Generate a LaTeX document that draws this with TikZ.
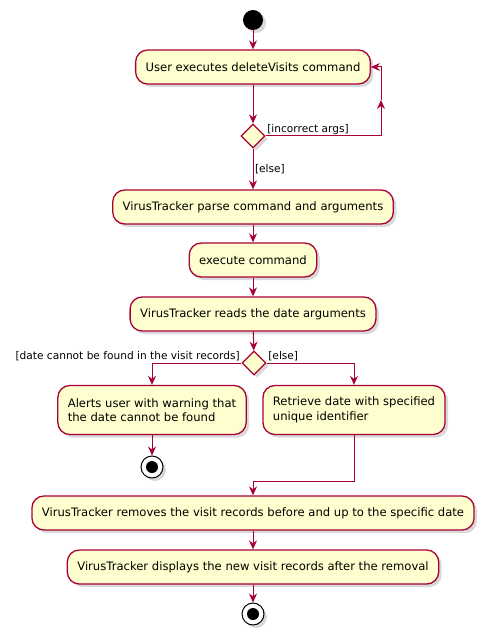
\documentclass[tikz,border=0pt]{standalone}
\usepackage{fontspec}
\setmainfont{DejaVu Sans}
\usetikzlibrary{arrows.meta,shadows,shapes.geometric}
\definecolor{umlborder}{HTML}{A80036}
\definecolor{umlfill}{HTML}{FEFECE}
\begin{document}
\begin{tikzpicture}[x=1pt,y=-1pt,font=\fontsize{11.6}{14.5}\selectfont,
  umlshadow/.style={drop shadow={shadow xshift=3pt,shadow yshift=-3pt,opacity=0.3}},
  action/.style={draw=umlborder,fill=umlfill,line width=1.3pt,rounded corners=12pt,
    minimum height=34pt,inner xsep=10pt,align=left,umlshadow},
  branch/.style={diamond,draw=umlborder,fill=umlfill,line width=1.3pt,
    minimum size=24pt,inner sep=0pt,umlshadow},
  initial/.style={circle,fill=black,minimum size=20pt,inner sep=0pt,umlshadow},
  final/.style={circle,draw=black,fill=white,line width=1pt,minimum size=22pt,inner sep=0pt,umlshadow,
    path picture={\fill[black] (path picture bounding box.center) circle (6pt);}},
  flow/.style={draw=umlborder,line width=1pt,-{Stealth[length=9pt,width=8pt,inset=3pt]}},
  guard/.style={font=\fontsize{10.6}{12.5}\selectfont,inner sep=1.5pt}]
\useasboundingbox (0,0) rectangle (485,636);
% nodes
\node[initial] (begin) at (253,20) {};
\node[action] (usercmd) at (253,67) {User executes deleteVisits command};
\node[branch] (argcheck) at (253,136) {};
\node[action] (parse) at (253,207) {VirusTracker parse command and arguments};
\node[action] (exec) at (253,260) {execute command};
\node[action] (readdate) at (253,314) {VirusTracker reads the date arguments};
\node[branch] (datecheck) at (254,363) {};
\node[action,minimum height=49pt] (alert) at (152,410) {Alerts user with warning that\\the date cannot be found};
\node[action,minimum height=49pt] (fetch) at (354,410) {Retrieve date with specified\\unique identifier};
\node[final] (halt) at (152,467) {};
\node[action] (remove) at (253,513) {VirusTracker removes the visit records before and up to the specific date};
\node[action] (show) at (253,567) {VirusTracker displays the new visit records after the removal};
\node[final] (finish) at (253,614) {};
\coordinate (loopmid) at (381,100);
\coordinate (merge) at (253,481);
% connectors
\draw[flow] (begin) -- (usercmd);
\draw[flow] (usercmd) -- (argcheck);
\draw[flow] (argcheck.east) -| (loopmid);
\draw[flow] (loopmid) |- (usercmd.east);
\node[guard,anchor=south west] at (argcheck.east) {[incorrect args]};
\draw[flow] (argcheck) -- node[guard,right] {[else]} (parse);
\draw[flow] (parse) -- (exec);
\draw[flow] (exec) -- (readdate);
\draw[flow] (readdate) -- (datecheck);
\draw[flow] (datecheck.west) -| (alert);
\node[guard,anchor=south east] at (datecheck.west) {[date cannot be found in the visit records]};
\draw[flow] (datecheck.east) -| (fetch);
\node[guard,anchor=south west] at (datecheck.east) {[else]};
\draw[flow] (alert) -- (halt);
\draw[flow] (fetch) |- (merge) -- (remove);
\draw[flow] (remove) -- (show);
\draw[flow] (show) -- (finish);
\end{tikzpicture}
\end{document}
